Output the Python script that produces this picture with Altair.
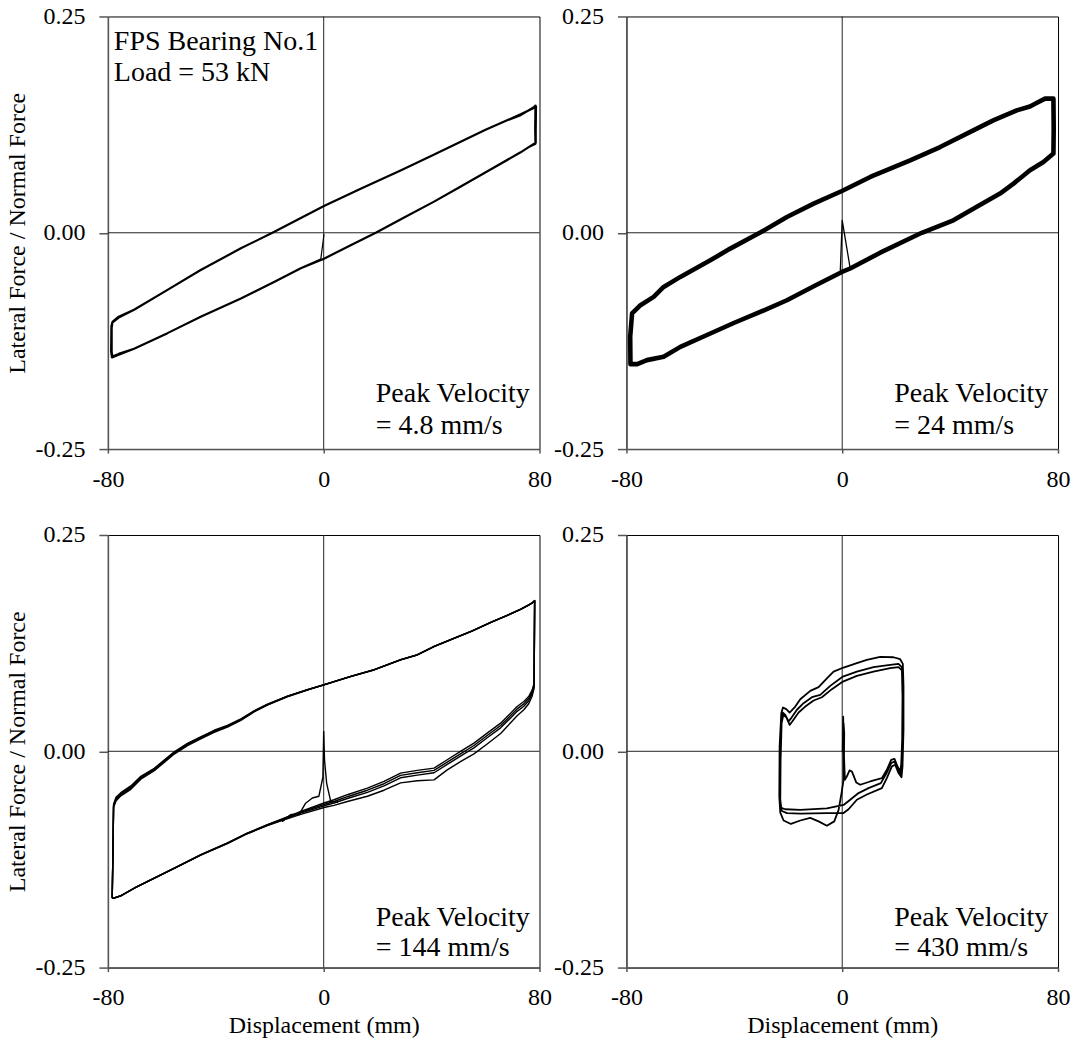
import altair as alt
import pandas as pd

FONT = "Liberation Serif"

# ---------------- values ----------------
x_ticks = [-80, 0, 80]
y_ticks = [-0.25, 0.0, 0.25]

# Panel 1 : Peak velocity 4.8 mm/s
p1_loop_x = [-1.1, -8.5, -18.4, -30.7, -45.6, -57.9, -70.3, -76.0, -78.3,
             -78.6, -78.6, -78.3,
             -76.0, -70.3, -57.9, -45.6, -30.7, -19.0, 0.1, 13.7, 28.5, 40.0, 50.0, 60.0, 68.0, 73.0, 77.9,
             78.5, 78.4, 78.5,
             76.0, 73.0, 61.2, 50.0, 40.9, 30.0, 19.3, 10.0, 0.1, -8.5, -18.4, -30.7, -45.6, -57.9, -70.3, -76.0, -78.5,
             -78.8, -78.7, -78.4,
             -76.0, -70.3, -57.9, -45.6, -30.7, -19.0, 0.1, 13.7, 28.5, 40.0, 50.0, 60.0, 68.0, 73.0, 77.7,
             78.7, 78.6, 78.6,
             76.0, 73.0, 61.2, 50.0, 40.9, 30.0, 19.3, 10.0, 0.1]
p1_loop_y = [-0.031, -0.041, -0.057, -0.076, -0.097, -0.116, -0.134, -0.140, -0.143,
             -0.138, -0.110, -0.103,
             -0.097, -0.089, -0.066, -0.043, -0.018, 0.000, 0.031, 0.051, 0.072, 0.089, 0.104, 0.119, 0.130, 0.136, 0.145,
             0.147, 0.120, 0.103,
             0.099, 0.093, 0.072, 0.052, 0.036, 0.018, 0.000, -0.0144, -0.030, -0.041, -0.057, -0.076, -0.097, -0.116, -0.134, -0.141, -0.144,
             -0.137, -0.108, -0.104,
             -0.098, -0.089, -0.066, -0.043, -0.018, 0.000, 0.031, 0.051, 0.072, 0.089, 0.104, 0.119, 0.130, 0.137, 0.144,
             0.146, 0.118, 0.104,
             0.099, 0.093, 0.072, 0.052, 0.036, 0.018, 0.000, -0.0144, -0.030]
p1_spike_x = [0.1, -1.1]
p1_spike_y = [-0.002, -0.031]

# Panel 2 : Peak velocity 24 mm/s
p2_loop_x = [2.96, -0.1, -10.0, -20.5, -30.4, -40.0, -48.9, -60.0, -66.2, -72.4, -76.0, -78.5,
             -78.6, -77.9,
             -74.8, -69.9, -66.2, -60.0, -48.9, -41.5, -30.4, -20.5, -10.6, -0.1, 10.4, 17.8, 25.2, 36.3,
             48.6, 56.0, 64.7, 69.6, 71.5, 75.2, 78.3,
             78.4, 78.3,
             74.6, 69.6, 63.5, 58.5, 48.6, 41.2, 29.5, 14.1, 2.96]
p2_loop_y = [-0.0413, -0.0453, -0.061, -0.078, -0.0915, -0.104, -0.1164, -0.1319, -0.1434, -0.1472, -0.1518, -0.1518,
             -0.120, -0.0933,
             -0.0837, -0.0741, -0.0626, -0.051, -0.0318, -0.0183, 0.0002, 0.0183, 0.0337, 0.0483, 0.0645, 0.0741, 0.0837, 0.0991,
             0.1184, 0.1299, 0.1415, 0.146, 0.1491, 0.155, 0.155,
             0.120, 0.0915,
             0.0818, 0.0722, 0.0568, 0.0453, 0.0279, 0.0144, 0.000, -0.023, -0.0413]
p2_spike_x = [-0.7, 0.0, 2.96]
p2_spike_y = [-0.0434, 0.0144, -0.0413]

# Panel 3 : Peak velocity 144 mm/s (four cycles)
p3_up_x = [-78.4, -78.1, -77.9, -77.0, -75.2, -71.5, -67.8, -62.8, -55.4, -50.5, -45.6, -40.6, -35.7, -30.7,
           -25.8, -20.9, -13.5, -6.05, 0.12, 9.99, 18.64, 28.52, 34.7, 40.9, 47.0, 55.0, 62.0, 68.0,
           73.0, 76.0, 77.5, 78.2]
p3_up1_y = [-0.1690, -0.110, -0.0637, -0.0560, -0.0502, -0.0425, -0.0310, -0.0214, -0.0021, 0.0075, 0.0152, 0.0229,
            0.0287, 0.0364, 0.0460, 0.0537, 0.0633, 0.0710, 0.0768, 0.0864, 0.0941, 0.1057, 0.1114, 0.1211,
            0.1288, 0.139, 0.149, 0.157, 0.164, 0.169, 0.172, 0.174]
p3_up2_y = [-0.1690, -0.110, -0.0625, -0.0545, -0.0490, -0.0412, -0.0300, -0.0205, -0.0012, 0.0085, 0.0160, 0.0236,
            0.0294, 0.0370, 0.0464, 0.0540, 0.0635, 0.0711, 0.0769, 0.0865, 0.0942, 0.1058, 0.1115, 0.1212,
            0.1289, 0.1391, 0.1491, 0.1571, 0.1641, 0.1691, 0.1721, 0.1741]
p3_up3_y = [-0.1690, -0.110, -0.0650, -0.0575, -0.0515, -0.0440, -0.0322, -0.0225, -0.0032, 0.0065, 0.0143, 0.0220,
            0.0280, 0.0358, 0.0455, 0.0533, 0.0630, 0.0708, 0.0767, 0.0863, 0.0940, 0.1056, 0.1113, 0.1210,
            0.1287, 0.1389, 0.1489, 0.1569, 0.1639, 0.1689, 0.1719, 0.1739]
p3_up4_y = [-0.1690, -0.110, -0.0612, -0.0532, -0.0478, -0.0400, -0.0290, -0.0196, -0.0005, 0.0092, 0.0168, 0.0243,
            0.0300, 0.0376, 0.0468, 0.0544, 0.0638, 0.0713, 0.0770, 0.0866, 0.0943, 0.1059, 0.1116, 0.1213,
            0.1290, 0.1392, 0.1492, 0.1572, 0.1642, 0.1692, 0.1722, 0.1742]
p3_lo_x = [78.0, 77.3, 76.0, 74.2, 71.7, 69.3, 65.6, 60.6, 55.7, 50.7, 45.8, 40.9, 34.7, 28.5, 22.35,
           16.2, 8.77, 3.83, 0.12, -8.5, -14.7, -20.9, -28.3, -35.7, -45.6, -55.4, -64.1, -70.2, -75.2,
           -77.7, -78.3]
p3_lo1_y = [0.0787, 0.0710, 0.0633, 0.0575, 0.0518, 0.0441, 0.0325, 0.0210, 0.0094, -0.0002, -0.0098,
            -0.0194, -0.0221, -0.0252, -0.0348, -0.0425, -0.0502, -0.0560, -0.0598, -0.0695, -0.0772,
            -0.0849, -0.0945, -0.1060, -0.1195, -0.1349, -0.1484, -0.1580, -0.1669, -0.1695, -0.1695]
p3_lo2_y = [0.0770, 0.0690, 0.0610, 0.0548, 0.0490, 0.0413, 0.0298, 0.0183, 0.0067, -0.0029, -0.0125,
            -0.0221, -0.0248, -0.0279, -0.0375, -0.0450, -0.0525, -0.0580, -0.0615, -0.0705, -0.0778,
            -0.0852, -0.0947, -0.1062, -0.1197, -0.1350, -0.1485, -0.1581, -0.1670, -0.1696, -0.1696]
p3_lo3_y = [0.0750, 0.0668, 0.0585, 0.0520, 0.0462, 0.0386, 0.0271, 0.0156, 0.0040, -0.0056, -0.0152,
            -0.0248, -0.0275, -0.0306, -0.0400, -0.0475, -0.0546, -0.0598, -0.0630, -0.0715, -0.0785,
            -0.0856, -0.0950, -0.1064, -0.1199, -0.1352, -0.1487, -0.1582, -0.1671, -0.1697, -0.1697]
p3_lo4_y = [0.0730, 0.0640, 0.0550, 0.0480, 0.0410, 0.0330, 0.0205, 0.0085, -0.0030, -0.0120, -0.0215,
            -0.0330, -0.0340, -0.0365, -0.0450, -0.0520, -0.0580, -0.0625, -0.0650, -0.0730, -0.0792,
            -0.0860, -0.0953, -0.1066, -0.1200, -0.1353, -0.1488, -0.1583, -0.1672, -0.1698, -0.1698]
p3_spike_x = [-15.3, -12.2, -9.1, -6.7, -4.2, -1.8, -0.3, 0.0, 0.3, 1.1, 2.6, 5.1]
p3_spike_y = [-0.081, -0.073, -0.073, -0.060, -0.054, -0.052, -0.030, 0.023, -0.010, -0.037, -0.058, -0.059]

# Panel 4 : Peak velocity 430 mm/s
p4_x = [0.2, 0.37, 0.5, -0.24, -1.36, -2.96, -5.68, -8.76, -11.85, -15.55, -19.01, -21.73, -22.96, -23.33,
        -23.21, -22.59, -21.97,
        -20.74, -19.5, -17.4, -15.55, -11.85, -8.76, -5.68, -3.21, 0.5, 5.43, 9.14, 14.08, 19.01, 21.48, 22.47,
        22.72, 22.72, 22.35, 21.98,
        20.87, 19.63, 18.4, 16.54, 14.7, 9.14, 5.43, 2.35, 0.5, -5.68, -15.55, -20.5, -22.34, -22.96,
        -23.08, -22.71, -22.09,
        -21.11, -19.87, -19.01, -16.79, -14.32, -11.23, -8.15, -4.44, 0.25, 5.43, 11.6, 17.78, 20.87, 22.1,
        22.35, 22.22, 21.85, 21.61,
        20.62, 19.38, 18.15, 16.3, 14.32, 9.75, 6.05, 2.96, 0.5, -5.68, -15.55, -21.11, -22.59, -22.96,
        -22.84, -22.47, -21.85,
        -20.74, -19.5, -18.52, -16.17, -13.7, -10.61, -7.53, -3.83, 0.25, 5.43, 11.6, 17.78, 20.87, 22.22,
        22.47, 22.22, 21.85, 21.48,
        20.5, 19.38, 18.15, 16.54, 14.7, 10.37, 6.67, 5.19, 3.58, 2.72, 1.73, 0.99, 0.62, 0.5, 0.74, 0.62]
p4_y = [0.0, 0.040, -0.033, -0.048, -0.068, -0.081, -0.086, -0.081, -0.077, -0.080, -0.084, -0.080, -0.071, -0.052,
        0.0055, 0.044, 0.0506,
        0.0487, 0.0448, 0.0517, 0.0602, 0.0698, 0.0741, 0.0844, 0.0921, 0.0968, 0.1018, 0.1056, 0.1091, 0.1087, 0.1064, 0.101,
        0.0748, 0.0248, -0.0176, -0.030,
        -0.0252, -0.0156, -0.0175, -0.031, -0.0426, -0.050, -0.056, -0.067, -0.0714, -0.0714, -0.072, -0.0715, -0.069, -0.062,
        -0.0137, 0.036, 0.0448,
        0.042, 0.0344, 0.038, 0.048, 0.0556, 0.0625, 0.0652, 0.0756, 0.0864, 0.0921, 0.0972, 0.0998, 0.101, 0.0972,
        0.0633, 0.0132, -0.0176, -0.0272,
        -0.0214, -0.0118, -0.0137, -0.026, -0.0368, -0.0426, -0.0483, -0.056, -0.062, -0.066, -0.0676, -0.067, -0.0655, -0.056,
        -0.0098, 0.0325, 0.042,
        0.0394, 0.0306, 0.0344, 0.0448, 0.0517, 0.0587, 0.0625, 0.0718, 0.0806, 0.0872, 0.0921, 0.096, 0.0972, 0.0933,
        0.0594, 0.0094, -0.0156, -0.0233,
        -0.0176, -0.0087, -0.0099, -0.0214, -0.031, -0.0349, -0.0387, -0.036, -0.0233, -0.022, -0.029, -0.033, -0.002, 0.0325, 0.021, -0.0176]

# annotations
p1_text = ["FPS Bearing No.1", "Load = 53 kN", "Peak Velocity", "= 4.8 mm/s"]
p1_text_x = [-77.8, -77.8, 19.3, 19.3]
p1_text_y = [0.2115, 0.175, -0.1957, -0.2327]
p2_text = ["Peak Velocity", "= 24 mm/s"]
p2_text_x = [19.3, 19.3]
p2_text_y = [-0.1957, -0.2327]
p3_text = ["Peak Velocity", "= 144 mm/s"]
p3_text_x = [19.3, 19.3]
p3_text_y = [-0.2015, -0.2361]
p4_text = ["Peak Velocity", "= 430 mm/s"]
p4_text_x = [19.3, 19.3]
p4_text_y = [-0.2015, -0.2361]

x_title = "Displacement (mm)"
y_title = "Lateral Force / Normal Force"


# ---------------- building the chart ----------------
def lines_df(series):
    rows = []
    for k, (xs, ys, w) in enumerate(series):
        for i, (a, b) in enumerate(zip(xs, ys)):
            rows.append({"s": k, "i": i, "x": a, "y": b, "w": w})
    return pd.DataFrame(rows)


def panel(series, texts, tx, ty, show_x_title, show_y_title):
    xkw = {"title": x_title} if show_x_title else {"title": None}
    ykw = {"title": y_title} if show_y_title else {"title": None}
    X = alt.X("x:Q", scale=alt.Scale(domain=[-80, 80], nice=False, zero=False),
              axis=alt.Axis(values=x_ticks, labelFlush=False,
                            labelExpr="datum.value < 0 ? '-' + format(-datum.value, 'd') : format(datum.value, 'd')"),
              **xkw)
    Y = alt.Y("y:Q", scale=alt.Scale(domain=[-0.25, 0.25], nice=False, zero=False),
              axis=alt.Axis(values=y_ticks, labelFlush=False,
                            labelExpr="datum.value < 0 ? '-' + format(-datum.value, '.2f') : format(datum.value, '.2f')"),
              **ykw)
    vrule = alt.Chart(pd.DataFrame({"x": [0]})).mark_rule(color="#222", strokeWidth=1).encode(x=X)
    hrule = alt.Chart(pd.DataFrame({"y": [0]})).mark_rule(color="#222", strokeWidth=1).encode(y=Y)
    lines = alt.Chart(lines_df(series)).mark_line(
        color="black", strokeJoin="round", strokeCap="round"
    ).encode(x=X, y=Y, detail="s:N", order="i:Q",
             strokeWidth=alt.StrokeWidth("w:Q", scale=None, legend=None))
    text = alt.Chart(pd.DataFrame({"t": texts, "x": tx, "y": ty})).mark_text(
        align="left", baseline="alphabetic", font=FONT, fontSize=28, color="black"
    ).encode(x=X, y=Y, text="t:N")
    return alt.layer(vrule, hrule, lines, text).properties(width=432, height=433)


p1 = panel([(p1_loop_x, p1_loop_y, 2.2), (p1_spike_x, p1_spike_y, 1.2)],
           p1_text, p1_text_x, p1_text_y, False, True)
p2 = panel([(p2_loop_x, p2_loop_y, 4.6), (p2_spike_x, p2_spike_y, 1.3)],
           p2_text, p2_text_x, p2_text_y, False, False)
p3_series = []
for uy, ly in [(p3_up1_y, p3_lo1_y), (p3_up2_y, p3_lo2_y), (p3_up3_y, p3_lo3_y), (p3_up4_y, p3_lo4_y)]:
    p3_series.append((p3_up_x + p3_lo_x, uy + ly, 1.4))
p3_series.append((p3_spike_x, p3_spike_y, 1.4))
p3 = panel(p3_series, p3_text, p3_text_x, p3_text_y, True, True)
p4 = panel([(p4_x, p4_y, 1.8)], p4_text, p4_text_x, p4_text_y, True, False)

chart = alt.concat(p1, p2, p3, p4, columns=2, bounds="flush",
                   spacing=alt.RowColnumber(row=86, column=87)).properties(
    padding={"left": 5, "top": 3, "right": 5, "bottom": 5}
).configure_view(
    stroke="black", strokeWidth=1
).configure_axis(
    labelFont=FONT, labelFontSize=24, labelColor="black", labelPadding=14,
    titleFont=FONT, titleFontSize=24, titleFontWeight="normal", titleColor="black",
    grid=False, domainColor="#555", domainWidth=1.5, tickColor="#555", tickWidth=1.5
).configure_axisX(tickSize=4, titlePadding=4).configure_axisY(tickSize=9, titlePadding=5)

chart.save("out.html", embed_options={"renderer": "svg", "actions": False})
